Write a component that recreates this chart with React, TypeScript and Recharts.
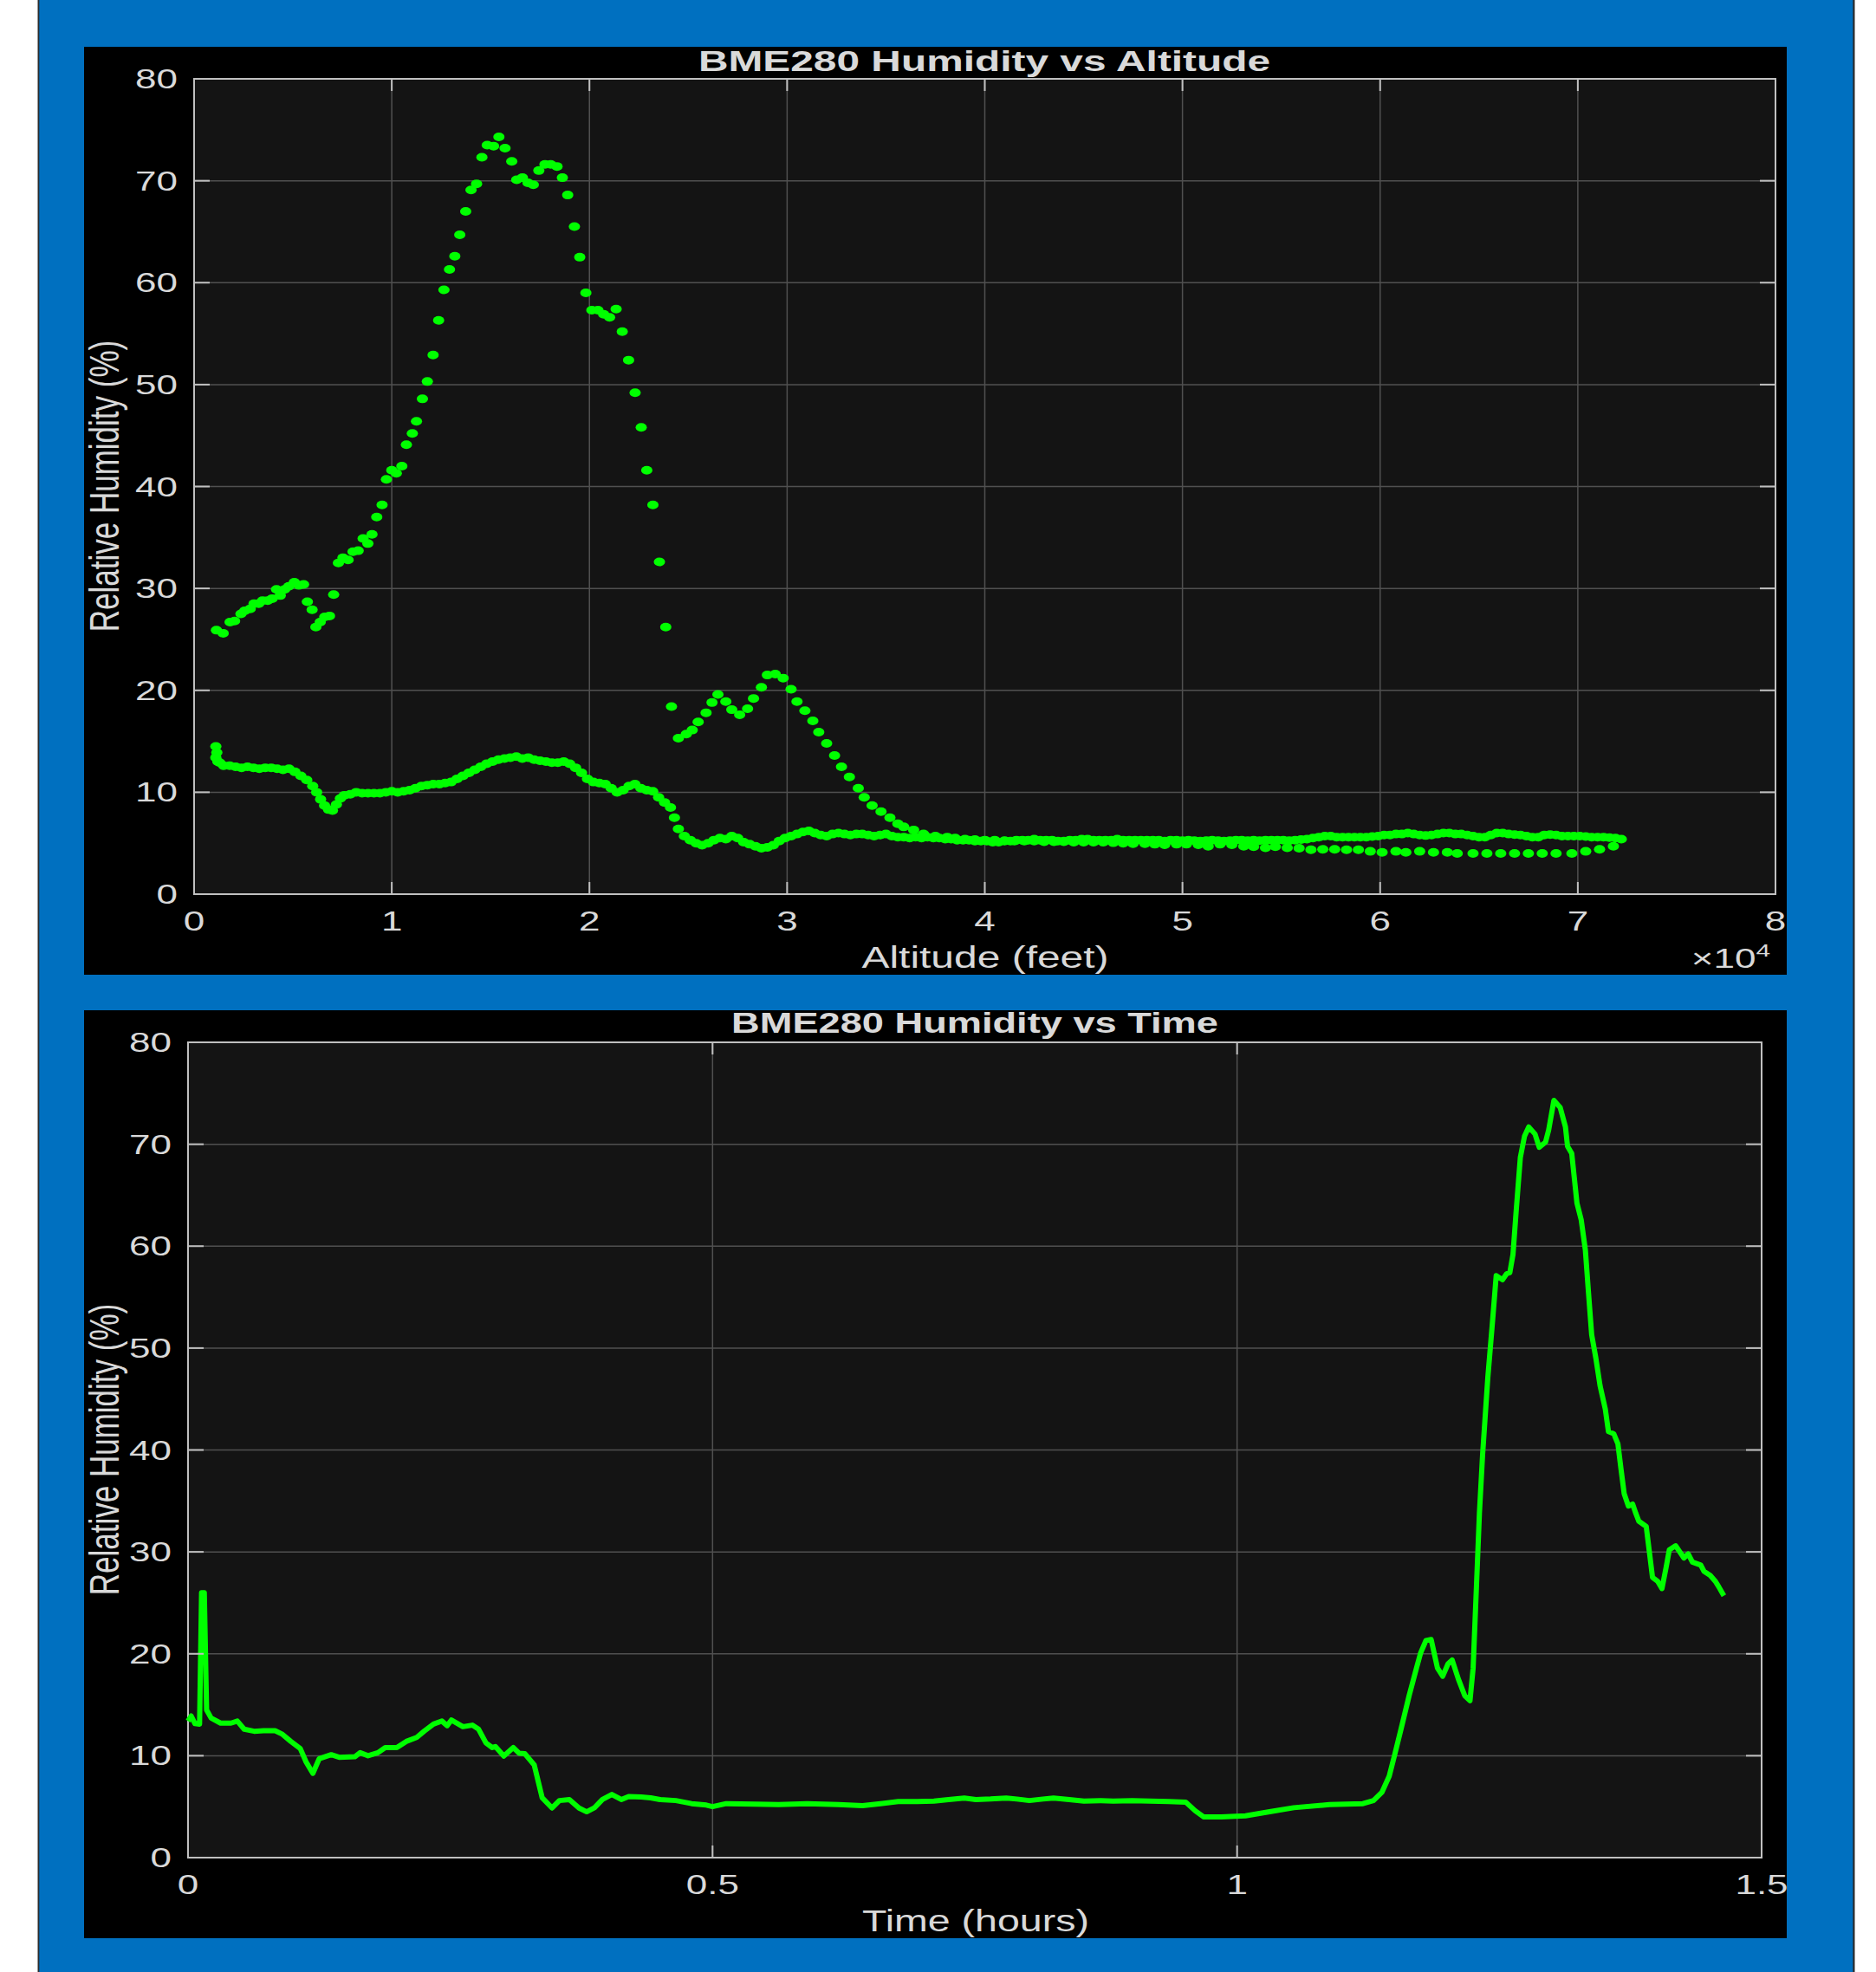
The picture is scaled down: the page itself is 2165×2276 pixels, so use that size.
import { ScatterChart, Scatter, LineChart, Line, XAxis, YAxis, CartesianGrid, ReferenceArea } from 'recharts';

// [altitude ft, relative humidity %] – ascent leg
const ascent: [number, number][] = [
  [1100, 14.5], [1150, 13.9], [1100, 13.4], [1200, 13.0], [1300, 12.9], [1500, 12.6], [1800, 12.6], [2100, 12.5],
  [2400, 12.4], [2700, 12.5], [3000, 12.4], [3300, 12.3], [3600, 12.4], [3900, 12.4], [4200, 12.3], [4500, 12.2],
  [4800, 12.3], [5100, 12.0], [5400, 11.6], [5700, 11.2], [6000, 10.6], [6200, 10.0], [6400, 9.3], [6600, 8.7],
  [6800, 8.3], [7000, 8.2], [7200, 8.8], [7400, 9.4], [7600, 9.7], [7900, 9.8], [8200, 10.0], [8500, 9.9],
  [8800, 9.9], [9100, 9.9], [9400, 9.9], [9700, 10.0], [10000, 10.1], [10300, 10.0], [10600, 10.1], [10900, 10.2],
  [11200, 10.4], [11500, 10.6], [11800, 10.7], [12100, 10.8], [12400, 10.8], [12700, 10.9], [13000, 11.0], [13300, 11.3],
  [13600, 11.6], [13900, 11.9], [14200, 12.2], [14500, 12.5], [14800, 12.8], [15100, 13.0], [15400, 13.2], [15700, 13.3],
  [16000, 13.4], [16300, 13.5], [16600, 13.3], [16900, 13.4], [17200, 13.2], [17500, 13.1], [17800, 13.0], [18100, 12.9],
  [18400, 12.9], [18700, 13.0], [19000, 12.8], [19300, 12.4], [19600, 11.9], [19900, 11.3], [20200, 11.0], [20500, 10.9],
  [20800, 10.8], [21100, 10.4], [21400, 10.0], [21700, 10.2], [22000, 10.6], [22300, 10.8], [22600, 10.4], [22900, 10.2],
  [23200, 10.1], [23500, 9.5], [23800, 9.0], [24100, 8.5], [24300, 7.5], [24500, 6.4], [24800, 5.7], [25100, 5.3],
  [25400, 5.0], [25700, 4.8], [26000, 5.0], [26300, 5.3], [26600, 5.5], [26900, 5.4], [27200, 5.7], [27500, 5.5],
  [27800, 5.1], [28100, 4.9], [28400, 4.7], [28700, 4.5], [29000, 4.6], [29300, 4.8], [29600, 5.2], [29900, 5.5],
  [30200, 5.7], [30500, 5.9], [30800, 6.1], [31100, 6.2], [31400, 6.0], [31700, 5.8], [32000, 5.7], [32300, 5.9],
  [32600, 6.0], [32900, 5.9], [33200, 5.8], [33500, 5.9], [33800, 5.9], [34100, 5.8], [34400, 5.7], [34700, 5.8],
  [35000, 5.9], [35300, 5.7], [35600, 5.6], [35900, 5.6], [36200, 5.5], [36500, 5.6], [36800, 5.5], [37100, 5.6],
  [37400, 5.5], [37700, 5.5], [38000, 5.4], [38300, 5.4], [38600, 5.3], [38900, 5.3], [39200, 5.3], [39500, 5.2],
  [39800, 5.2], [40100, 5.2], [40400, 5.1], [40700, 5.1], [41000, 5.2], [41300, 5.2], [41600, 5.3], [41900, 5.3],
  [42200, 5.3], [42500, 5.4], [42800, 5.3], [43100, 5.3], [43400, 5.3], [43700, 5.2], [44000, 5.2], [44300, 5.3],
  [44600, 5.3], [44900, 5.4], [45200, 5.4], [45500, 5.3], [45800, 5.3], [46100, 5.3], [46400, 5.3], [46700, 5.4],
  [47000, 5.3], [47300, 5.3], [47600, 5.3], [47900, 5.3], [48200, 5.3], [48500, 5.3], [48800, 5.3], [49100, 5.2],
  [49400, 5.3], [49700, 5.3], [50000, 5.25], [50300, 5.3], [50600, 5.25], [50900, 5.2], [51200, 5.25], [51500, 5.3],
  [51800, 5.25], [52100, 5.2], [52400, 5.25], [52700, 5.3], [53000, 5.3], [53300, 5.25], [53600, 5.3], [53900, 5.25],
  [54200, 5.3], [54500, 5.3], [54800, 5.3], [55100, 5.3], [55400, 5.25], [55700, 5.3], [56000, 5.35], [56300, 5.4],
  [56600, 5.5], [56900, 5.6], [57200, 5.7], [57500, 5.7], [57800, 5.6], [58100, 5.6], [58400, 5.6], [58700, 5.6],
  [59000, 5.6], [59300, 5.6], [59600, 5.65], [59900, 5.7], [60200, 5.8], [60500, 5.8], [60800, 5.9], [61100, 5.9],
  [61400, 6.0], [61700, 5.9], [62000, 5.8], [62300, 5.75], [62600, 5.8], [62900, 5.9], [63200, 6.0], [63500, 6.0],
  [63800, 5.9], [64100, 5.9], [64400, 5.8], [64700, 5.7], [65000, 5.6], [65300, 5.6], [65600, 5.8], [65900, 6.0],
  [66200, 6.0], [66500, 5.9], [66800, 5.85], [67100, 5.8], [67400, 5.7], [67700, 5.6], [68000, 5.6], [68300, 5.8],
  [68600, 5.85], [68900, 5.8], [69200, 5.7], [69500, 5.7], [69800, 5.7], [70100, 5.7], [70400, 5.65], [70700, 5.6],
  [71000, 5.6], [71300, 5.6], [71600, 5.55], [71900, 5.5], [72200, 5.4],
];

// descent leg, from burst altitude down
const descent: [number, number][] = [
  [71800, 4.7], [71100, 4.4], [70400, 4.2], [69700, 4.0], [68900, 4.0], [68200, 4.0], [67500, 4.0], [66800, 4.0],
  [66100, 4.0], [65400, 4.0], [64700, 4.0], [63900, 4.0], [63400, 4.1], [62700, 4.1], [62000, 4.2], [61300, 4.1],
  [60800, 4.2], [60100, 4.1], [59500, 4.2], [58900, 4.35], [58300, 4.35], [57700, 4.4], [57100, 4.4], [56500, 4.35],
  [55900, 4.5], [55300, 4.55], [54700, 4.65], [54200, 4.55], [53600, 4.65], [53100, 4.7], [52500, 4.85], [51900, 4.9],
  [51300, 4.7], [50800, 4.85], [50200, 4.9], [49700, 4.9], [49100, 4.85], [48600, 4.9], [48100, 4.95], [47500, 4.95],
  [47000, 5.0], [46500, 5.05], [46000, 5.1], [45500, 5.1], [45000, 5.1], [44500, 5.1], [44000, 5.15], [43500, 5.15],
  [43000, 5.15], [42500, 5.2], [42000, 5.2], [41500, 5.2], [41000, 5.25], [40500, 5.3], [40000, 5.3], [39500, 5.35],
  [39000, 5.4], [38500, 5.5], [38100, 5.6], [37500, 5.7], [36900, 5.9], [36400, 6.3], [35900, 6.6], [35600, 6.9],
  [35200, 7.5], [34750, 8.1], [34300, 8.7], [33900, 9.5], [33600, 10.4], [33150, 11.5], [32750, 12.5], [32400, 13.6],
  [32000, 14.8], [31600, 15.9], [31300, 17.0], [30900, 18.0], [30500, 18.9], [30200, 20.1], [29800, 21.2], [29400, 21.6],
  [29000, 21.5], [28700, 20.3], [28300, 19.2], [28000, 18.2], [27600, 17.6], [27200, 18.1], [26900, 18.9], [26500, 19.6],
  [26200, 18.8], [25900, 17.8], [25500, 16.9], [25200, 16.1], [24900, 15.7], [24500, 15.3], [24150, 18.4], [23860, 26.2],
  [23540, 32.6], [23210, 38.2], [22900, 41.6], [22620, 45.8], [22310, 49.2], [21980, 52.4], [21660, 55.2], [21350, 57.4],
  [21020, 56.6], [20720, 56.9], [20430, 57.3], [20120, 57.3], [19820, 59.0], [19510, 62.5], [19240, 65.5], [18900, 68.6],
  [18630, 70.3], [18360, 71.4], [18040, 71.6], [17750, 71.6], [17440, 71.0], [17160, 69.6], [16890, 69.8], [16610, 70.3],
  [16320, 70.1], [16070, 71.9], [15730, 73.2], [15420, 74.3], [15150, 73.4], [14830, 73.5], [14560, 72.3], [14290, 69.7],
  [14010, 69.1], [13740, 67.0], [13440, 64.7], [13190, 62.6], [12920, 61.3], [12640, 59.3], [12370, 56.3], [12090, 52.9],
  [11800, 50.3], [11550, 48.6], [11250, 46.4], [11040, 45.2], [10740, 44.1], [10510, 42.0], [10230, 41.3], [10000, 41.6],
  [9730, 40.7], [9510, 38.2], [9240, 37.0], [9000, 35.3], [8790, 34.4], [8550, 34.9], [8300, 33.7], [8040, 33.6],
  [7790, 32.8], [7530, 33.0], [7300, 32.5], [7060, 29.4], [6850, 27.3], [6610, 27.2], [6380, 26.7], [6160, 26.2],
  [5970, 27.9], [5730, 28.7], [5540, 30.4], [5300, 30.3], [5070, 30.6], [4790, 30.2], [4580, 29.9], [4360, 29.3],
  [4170, 29.9], [3950, 29.0], [3720, 28.8], [3460, 28.8], [3270, 28.5], [3030, 28.5], [2840, 28.0], [2560, 27.8],
  [2370, 27.5], [2050, 26.8], [1820, 26.7], [1470, 25.6], [1130, 25.9],
];

// [time h, relative humidity %]
const flight: [number, number][] = [
  [0, 13.4], [0.003, 13.9], [0.0066, 13.15], [0.011, 13.1], [0.0129, 26.0], [0.0155, 26.0], [0.0177, 14.5], [0.022, 13.7],
  [0.031, 13.2], [0.041, 13.2], [0.047, 13.4], [0.0535, 12.6], [0.063, 12.4], [0.072, 12.45], [0.083, 12.45], [0.09, 12.1],
  [0.098, 11.4], [0.107, 10.7], [0.1125, 9.4], [0.119, 8.27], [0.125, 9.7], [0.1365, 10.1], [0.144, 9.85], [0.159, 9.9],
  [0.164, 10.3], [0.1716, 10.0], [0.181, 10.3], [0.188, 10.8], [0.199, 10.8], [0.208, 11.4], [0.218, 11.8], [0.225, 12.4],
  [0.234, 13.1], [0.242, 13.4], [0.247, 12.95], [0.251, 13.5], [0.262, 12.85], [0.271, 13.0], [0.277, 12.6], [0.284, 11.25],
  [0.29, 10.8], [0.293, 10.9], [0.301, 9.97], [0.31, 10.8], [0.3155, 10.25], [0.321, 10.2], [0.33, 9.1], [0.3376, 5.87],
  [0.347, 4.87], [0.354, 5.6], [0.3635, 5.7], [0.3727, 4.87], [0.38, 4.5], [0.3875, 4.9], [0.395, 5.7], [0.404, 6.2],
  [0.413, 5.7], [0.42, 6.0], [0.432, 5.95], [0.441, 5.87], [0.45, 5.7], [0.465, 5.6], [0.48, 5.3], [0.494, 5.16],
  [0.5, 5.0], [0.513, 5.3], [0.54, 5.25], [0.563, 5.2], [0.59, 5.3], [0.62, 5.2], [0.643, 5.1], [0.66, 5.3],
  [0.677, 5.5], [0.695, 5.5], [0.711, 5.55], [0.725, 5.7], [0.74, 5.85], [0.751, 5.7], [0.765, 5.75], [0.78, 5.85],
  [0.79, 5.75], [0.802, 5.6], [0.815, 5.75], [0.825, 5.85], [0.84, 5.7], [0.854, 5.55], [0.87, 5.6], [0.882, 5.55],
  [0.9, 5.6], [0.917, 5.55], [0.935, 5.5], [0.951, 5.45], [0.96, 4.6], [0.968, 4.0], [0.985, 4.0], [1.008, 4.1],
  [1.031, 4.5], [1.054, 4.9], [1.088, 5.2], [1.12, 5.3], [1.13, 5.6], [1.138, 6.4], [1.145, 8.0], [1.15, 10.0],
  [1.156, 12.5], [1.164, 15.9], [1.171, 18.6], [1.175, 20.1], [1.18, 21.3], [1.185, 21.4], [1.191, 18.6], [1.196, 17.8],
  [1.201, 19.0], [1.205, 19.4], [1.211, 17.5], [1.217, 15.9], [1.222, 15.4], [1.225, 18.6], [1.228, 26.2], [1.231, 33.8],
  [1.234, 39.5], [1.239, 47.1], [1.243, 52.0], [1.247, 57.1], [1.25, 56.9], [1.253, 56.7], [1.257, 57.3], [1.26, 57.4],
  [1.263, 59.2], [1.266, 63.4], [1.27, 68.7], [1.274, 70.8], [1.278, 71.7], [1.284, 71.0], [1.288, 69.7], [1.294, 70.2],
  [1.297, 71.4], [1.302, 74.3], [1.308, 73.6], [1.313, 71.7], [1.315, 69.8], [1.319, 69.1], [1.324, 64.2], [1.328, 62.6],
  [1.332, 59.6], [1.335, 55.4], [1.338, 51.3], [1.342, 49.0], [1.346, 46.3], [1.351, 44.0], [1.354, 41.8], [1.359, 41.6],
  [1.363, 40.6], [1.366, 38.1], [1.369, 35.7], [1.373, 34.5], [1.377, 34.7], [1.38, 33.8], [1.383, 33.0], [1.39, 32.5],
  [1.393, 30.0], [1.396, 27.5], [1.401, 27.1], [1.405, 26.4], [1.409, 28.5], [1.412, 30.2], [1.418, 30.6], [1.426, 29.4],
  [1.43, 29.8], [1.434, 29.0], [1.442, 28.7], [1.445, 28.1], [1.451, 27.7], [1.456, 27.1], [1.459, 26.6], [1.464, 25.7],
];

const altTicks = [0, 10000, 20000, 30000, 40000, 50000, 60000, 70000, 80000];
const timeTicks = [0, 0.5, 1, 1.5];
const humTicks = [0, 10, 20, 30, 40, 50, 60, 70, 80];

const FONT = '"Liberation Sans", Arial, sans-serif';
const TXT = '#d9d9d9';
const FRAME = '#c0c0c0';
const GREEN = '#00ff00';
const SX = 1.42; // source image is stretched horizontally

type Frame = { left: number; right: number; top: number; bottom: number };

const makeYTick = (f: Frame) => (p: any) => (
  <g>
    <line x1={f.left} x2={f.left + 18} y1={p.y} y2={p.y} stroke={FRAME} strokeWidth={2} />
    <line x1={f.right - 18} x2={f.right} y1={p.y} y2={p.y} stroke={FRAME} strokeWidth={2} />
    <text transform={`translate(${f.left - 19},${p.y + 11}) scale(${SX},1)`} textAnchor="end"
      fontSize={31} fontFamily={FONT} fill={TXT}>{p.payload.value}</text>
  </g>
);

const makeXTick = (f: Frame, fmt: (v: number) => string) => (p: any) => (
  <g>
    <line x1={p.x} x2={p.x} y1={f.bottom - 14} y2={f.bottom} stroke={FRAME} strokeWidth={2} />
    <line x1={p.x} x2={p.x} y1={f.top} y2={f.top + 14} stroke={FRAME} strokeWidth={2} />
    <text transform={`translate(${p.x},${f.bottom + 42}) scale(${SX},1)`} textAnchor="middle"
      fontSize={31} fontFamily={FONT} fill={TXT}>{fmt(p.payload.value)}</text>
  </g>
);

const Dot = (p: any) => <ellipse cx={p.cx} cy={p.cy} rx={6.5} ry={5} fill={GREEN} />;

const W = 2068;
const H = 1071;
const f1: Frame = { left: 127, right: 1952, top: 37, bottom: 978 };
const f2: Frame = { left: 120, right: 1936, top: 37, bottom: 978 };

const ascentData = ascent.map(([alt, hum]) => ({ alt, hum }));
const descentData = descent.map(([alt, hum]) => ({ alt, hum }));
const flightData = flight.map(([t, hum]) => ({ t, hum }));

const Txt = ({ x, y, size, bold, sx, anchor = 'middle', rotate, children }: any) => (
  <text transform={`translate(${x},${y}) scale(${sx},1)${rotate ? ` rotate(${rotate})` : ''}`}
    textAnchor={anchor} fontSize={size} fontWeight={bold ? 'bold' : 'normal'} fontFamily={FONT} fill={TXT}>
    {children}
  </text>
);

export default function App() {
  return (
    <div style={{ position: 'absolute', left: 0, top: 0, width: 2165, height: 2276, background: '#fff' }}>
      <svg width={2165} height={2276} style={{ position: 'absolute', left: 0, top: 0 }}>
        <rect x={43.5} y={0} width={2097} height={2276} fill="#2b2b2b" />
        <rect x={45.3} y={0} width={2093} height={2276} fill="#0070c0" />
        <rect x={97} y={54} width={1965} height={1071} fill="#000" />
        <rect x={97} y={1166} width={1965} height={1071} fill="#000" />

        <Txt x={1136} y={82} size={33} bold sx={1.45}>BME280 Humidity vs Altitude</Txt>
        <Txt x={1137} y={1117} size={35} sx={1.37}>Altitude (feet)</Txt>
        <Txt x={120} y={561} size={35} sx={1.4} rotate={-90}>
          <tspan dy={12}>Relative Humidity (%)</tspan>
        </Txt>
        <Txt x={2043} y={1117} size={31} sx={SX} anchor="end">
          ×10<tspan dy={-13} fontSize={21}>4</tspan>
        </Txt>

        <Txt x={1125} y={1192} size={33} bold sx={1.37}>BME280 Humidity vs Time</Txt>
        <Txt x={1126} y={2229} size={35} sx={1.33}>Time (hours)</Txt>
        <Txt x={120} y={1673} size={35} sx={1.4} rotate={-90}>
          <tspan dy={12}>Relative Humidity (%)</tspan>
        </Txt>
      </svg>

      <div style={{ position: 'absolute', left: 97, top: 54 }}>
        <ScatterChart width={W} height={H} margin={{ top: 37, right: W - f1.right, bottom: 0, left: 0 }}>
          <CartesianGrid fill="#141414" stroke="#505050" strokeWidth={1.5} />
          <XAxis type="number" dataKey="alt" domain={[0, 80000]} ticks={altTicks} interval={0} height={93}
            axisLine={false} tickLine={false} tickSize={0} tickMargin={0}
            tick={makeXTick(f1, (v) => String(v / 10000))} />
          <YAxis type="number" dataKey="hum" domain={[0, 80]} ticks={humTicks} interval={0} width={127}
            axisLine={false} tickLine={false} tickSize={0} tickMargin={0} tick={makeYTick(f1)} />
          <Scatter data={ascentData} fill={GREEN} shape={Dot} isAnimationActive={false} />
          <Scatter data={descentData} fill={GREEN} shape={Dot} isAnimationActive={false} />
          <ReferenceArea x1={0} x2={80000} y1={0} y2={80} fill="none" fillOpacity={0} stroke={FRAME} strokeWidth={2} />
        </ScatterChart>
      </div>

      <div style={{ position: 'absolute', left: 97, top: 1166 }}>
        <LineChart width={W} height={H} data={flightData} margin={{ top: 37, right: W - f2.right, bottom: 0, left: 0 }}>
          <CartesianGrid fill="#141414" stroke="#505050" strokeWidth={1.5} />
          <XAxis type="number" dataKey="t" domain={[0, 1.5]} ticks={timeTicks} interval={0} height={93}
            axisLine={false} tickLine={false} tickSize={0} tickMargin={0}
            tick={makeXTick(f2, (v) => String(v))} />
          <YAxis type="number" domain={[0, 80]} ticks={humTicks} interval={0} width={120}
            axisLine={false} tickLine={false} tickSize={0} tickMargin={0} tick={makeYTick(f2)} />
          <Line type="linear" dataKey="hum" stroke={GREEN} strokeWidth={6} dot={false}
            strokeLinejoin="round" isAnimationActive={false} />
          <ReferenceArea x1={0} x2={1.5} y1={0} y2={80} fill="none" fillOpacity={0} stroke={FRAME} strokeWidth={2} />
        </LineChart>
      </div>
    </div>
  );
}
